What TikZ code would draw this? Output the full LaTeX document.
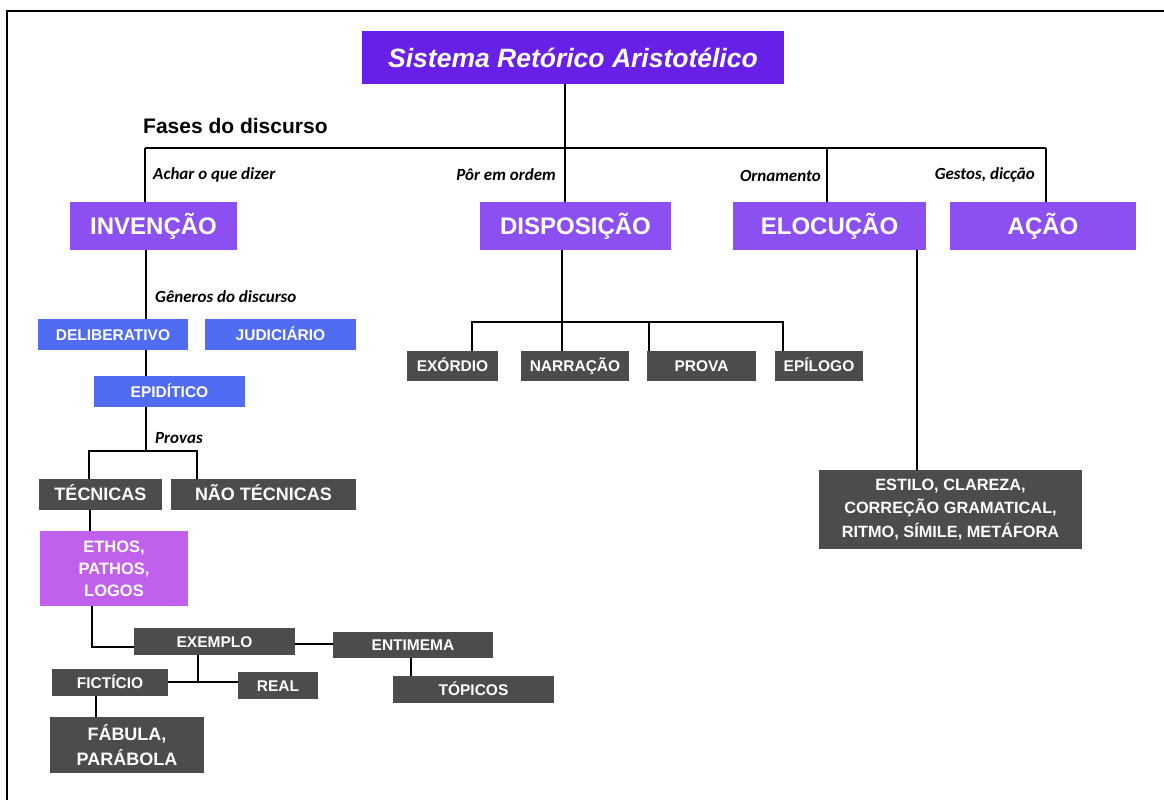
\documentclass[tikz,border=0pt]{standalone}
\usepackage{fontspec}
\setmainfont{Liberation Sans}
\newfontfamily\labfont{Carlito}
\usetikzlibrary{backgrounds}
\definecolor{titlecol}{RGB}{104,32,232}
\definecolor{phasecol}{RGB}{140,80,242}
\definecolor{bluecol}{RGB}{80,108,242}
\definecolor{magcol}{RGB}{194,96,238}
\definecolor{graycol}{RGB}{76,76,76}
\tikzset{
  bx/.style={inner sep=0pt, outer sep=0pt, anchor=north west, align=center, text=white, font=\bfseries},
  titlebox/.style={bx, text height=19pt, text depth=0pt, fill=titlecol, font=\bfseries\itshape\fontsize{26.5}{30}\selectfont},
  phasebox/.style={bx, text height=17.2pt, text depth=0pt, fill=phasecol, font=\bfseries\fontsize{24}{27}\selectfont},
  bluebox/.style={bx, text height=11.1pt, text depth=0pt, fill=bluecol, font=\bfseries\fontsize{15.5}{18}\selectfont},
  magbox/.style={bx, fill=magcol, font=\bfseries\fontsize{16.5}{22}\selectfont},
  graybox/.style={bx, fill=graycol, font=\bfseries\fontsize{15.5}{18}\selectfont},
  grayone/.style={graybox, text height=11.1pt, text depth=0pt},
  graybig/.style={graybox, text height=12.9pt, text depth=0pt, font=\bfseries\fontsize{18}{20}\selectfont},
  lab/.style={inner sep=0pt, font=\labfont\bfseries\itshape\fontsize{17}{19}\selectfont},
  conn/.style={draw=black, line width=2.4pt},
}
\begin{document}
\begin{tikzpicture}[x=1pt,y=-1pt]
\useasboundingbox (0,0) rectangle (1164,800);
\draw[line width=2pt] (7,800) -- (7,11) -- (1164,11);

% title and phases
\node[titlebox, minimum width=422pt, minimum height=53pt] (title) at (362,31) {Sistema Retórico Aristotélico};
\node[inner sep=0pt, anchor=west, font=\bfseries\fontsize{21}{24}\selectfont] (fases) at (143,126) {Fases do discurso};

\node[phasebox, minimum width=167pt, minimum height=48pt] (inv) at (70,202) {INVENÇÃO};
\node[phasebox, minimum width=191pt, minimum height=48pt] (disp) at (480,202) {DISPOSIÇÃO};
\node[phasebox, minimum width=193pt, minimum height=48pt] (eloc) at (733,202) {ELOCUÇÃO};
\node[phasebox, minimum width=186pt, minimum height=48pt] (acao) at (950,202) {AÇÃO};

\node[lab, anchor=west] (l1) at (153,175) {Achar o que dizer};
\node[lab, anchor=east] (l2) at (556,175) {Pôr em ordem};
\node[lab, anchor=east] (l3) at (821,176) {Ornamento};
\node[lab, anchor=east] (l4) at (1035,175) {Gestos, dicção};

% invencao branch
\node[lab, anchor=west] (gen) at (155,297) {Gêneros do discurso};
\node[bluebox, minimum width=150pt, minimum height=31pt] (deli) at (38,319) {DELIBERATIVO};
\node[bluebox, minimum width=151pt, minimum height=31pt] (judi) at (205,319) {JUDICIÁRIO};
\node[bluebox, minimum width=151pt, minimum height=31pt] (epid) at (94,376) {EPIDÍTICO};
\node[lab, anchor=west] (prov) at (155,438) {Provas};
\node[graybig, minimum width=123pt, minimum height=31pt] (tec) at (39,479) {TÉCNICAS};
\node[graybig, minimum width=185pt, minimum height=31pt] (ntec) at (171,479) {NÃO TÉCNICAS};
\node[magbox, minimum width=148pt, minimum height=75pt] (ethos) at (40,531) {ETHOS,\\PATHOS,\\LOGOS};
\node[grayone, minimum width=161pt, minimum height=27pt] (exem) at (134,628) {EXEMPLO};
\node[grayone, minimum width=160pt, minimum height=26pt] (ent) at (333,632) {ENTIMEMA};
\node[grayone, minimum width=161pt, minimum height=27pt] (topi) at (393,676) {TÓPICOS};
\node[grayone, minimum width=116pt, minimum height=27pt] (fic) at (52,669) {FICTÍCIO};
\node[grayone, minimum width=80pt, minimum height=27pt] (real) at (238,672) {REAL};
\node[graybox, minimum width=154pt, minimum height=56pt, font=\bfseries\fontsize{18}{25}\selectfont] (fab) at (50,717) {FÁBULA,\\PARÁBOLA};

% disposicao branch
\node[grayone, minimum width=91pt, minimum height=30pt] (exo) at (407,351) {EXÓRDIO};
\node[grayone, minimum width=108pt, minimum height=30pt] (nar) at (521,351) {NARRAÇÃO};
\node[grayone, minimum width=109pt, minimum height=30pt] (prova) at (647,351) {PROVA};
\node[grayone, minimum width=88pt, minimum height=30pt] (epi) at (775,351) {EPÍLOGO};

% elocucao branch
\node[graybox, minimum width=263pt, minimum height=79pt, font=\bfseries\fontsize{16.3}{23.5}\selectfont] (est) at (819,470) {ESTILO, CLAREZA,\\CORREÇÃO GRAMATICAL,\\RITMO, SÍMILE, METÁFORA};

\begin{pgfonlayer}{background}
% top level
\coordinate (tb) at (565,148);
\coordinate (bl) at (145,148);
\coordinate (br) at (1046,148);
\coordinate (be) at (827,148);
\draw[conn] (title.south -| tb) -- (tb);
\draw[conn] (bl) -- (br);
\draw[conn] (bl) -- (bl |- inv.north);
\draw[conn] (tb) -- (tb |- disp.north);
\draw[conn] (be) -- (be |- eloc.north);
\draw[conn] (br) -- (br |- acao.north);
% invencao
\coordinate (pv) at (146,451);
\coordinate (pl) at (89,451);
\coordinate (pr) at (197,451);
\draw[conn] (inv.south -| pv) -- (pv);
\draw[conn] (pl |- tec.north) -- (pl) -- (pr) -- (pr |- ntec.north);
\coordinate (x90) at (90,0);
\draw[conn] (tec.south -| x90) -- (ethos.north -| x90);
\coordinate (ee) at (92,647);
\draw[conn] (ethos.south -| ee) -- (ee) -- (ee -| exem.west);
\coordinate (xe) at (0,644);
\draw[conn] (exem.east |- xe) -- (ent.west |- xe);
\coordinate (x411) at (411,0);
\draw[conn] (ent.south -| x411) -- (topi.north -| x411);
\coordinate (fj) at (198,682);
\draw[conn] (exem.south -| fj) -- (fj);
\draw[conn] (fic.east |- fj) -- (real.west |- fj);
\coordinate (x96) at (96,0);
\draw[conn] (fic.south -| x96) -- (fab.north -| x96);
% disposicao
\coordinate (dj) at (562,322);
\coordinate (dl) at (472,322);
\coordinate (dp) at (649,322);
\coordinate (dr) at (783,322);
\draw[conn] (disp.south -| dj) -- (dj |- nar.north);
\draw[conn] (dl |- exo.north) -- (dl) -- (dr) -- (dr |- epi.north);
\draw[conn] (dp) -- (dp |- prova.north);
% elocucao
\coordinate (x917) at (917,0);
\draw[conn] (eloc.south -| x917) -- (est.north -| x917);
\end{pgfonlayer}
\end{tikzpicture}
\end{document}
